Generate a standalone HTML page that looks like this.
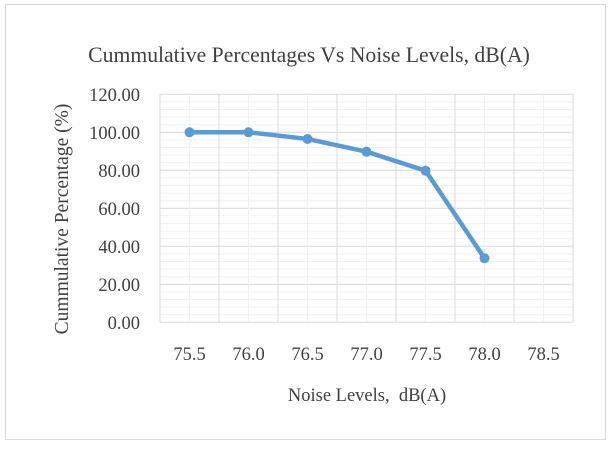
<!DOCTYPE html>
<html><head><meta charset="utf-8"><style>
body{margin:0;background:#fff;}
svg{display:block;font-family:"Liberation Serif",serif;}
</style></head><body>
<svg width="613" height="455" viewBox="0 0 613 455">
<rect x="5.5" y="4.5" width="600" height="435" fill="#fff" stroke="#d9d9d9"/>
<text x="309" y="62" text-anchor="middle" font-size="21.7" fill="#404040">Cummulative Percentages Vs Noise Levels, dB(A)</text>
<g id="grid"></g>
<g id="yt"></g>
<g id="xt"></g>
<text x="367" y="401" text-anchor="middle" font-size="18.5" fill="#404040">Noise Levels,&#160; dB(A)</text>
<text transform="translate(68,219) rotate(-90)" text-anchor="middle" font-size="19.5" fill="#404040">Cummulative Percentage (%)</text>
<g id="series"></g>
</svg>
<script>
const xValues=[75.5,76.0,76.5,77.0,77.5,78.0];
const yValues=[100,100,96.5,89.8,79.8,33.7];
const xTicks=[75.5,76.0,76.5,77.0,77.5,78.0,78.5];
const yTicks=[0,20,40,60,80,100,120];
const NS="http://www.w3.org/2000/svg";
const L=160,R=573,T=94.3,B=322.3,XMIN=75.25,XMAX=78.75,YMIN=0,YMAX=120;
const sx=v=>L+(v-XMIN)/(XMAX-XMIN)*(R-L);
const sy=v=>B-(v-YMIN)/(YMAX-YMIN)*(B-T);
function mk(t,a,p){const e=document.createElementNS(NS,t);for(const k in a)e.setAttribute(k,a[k]);p.appendChild(e);return e;}
const g=document.getElementById('grid');
for(let v=YMIN;v<=YMAX+1e-9;v+=4){const major=Math.abs(v%20)<1e-9;
const l=mk('line',{x1:L,x2:R,y1:sy(v),y2:sy(v),stroke:major?'#d9d9d9':'#f0f0f0','stroke-width':1},g);

}
for(let v=XMIN;v<=XMAX+1e-9;v+=0.25){const major=Math.abs(((v-XMIN)/0.5)-Math.round((v-XMIN)/0.5))<1e-6;
const l=mk('line',{x1:sx(v),x2:sx(v),y1:T,y2:B,stroke:major?'#d9d9d9':'#f0f0f0','stroke-width':1},g);

}
const yt=document.getElementById('yt');
yTicks.forEach(v=>{const t=mk('text',{x:140,y:sy(v)+6.5,'text-anchor':'end','font-size':18.5,fill:'#404040'},yt);t.textContent=v.toFixed(2);

});
const xt=document.getElementById('xt');
xTicks.forEach(v=>{const t=mk('text',{x:sx(v),y:360,'text-anchor':'middle','font-size':18.5,fill:'#404040'},xt);t.textContent=v.toFixed(1);

});
const s=document.getElementById('series');
const pl=mk('polyline',{points:xValues.map((x,i)=>sx(x)+','+sy(yValues[i])).join(' '),fill:'none',stroke:'#5b9bd5','stroke-width':4.5,'stroke-linejoin':'round'},s);


xValues.forEach((x,i)=>{const c=mk('circle',{cx:sx(x),cy:sy(yValues[i]),r:5,fill:'#5b9bd5'},s);

});
</script>
</body></html>
